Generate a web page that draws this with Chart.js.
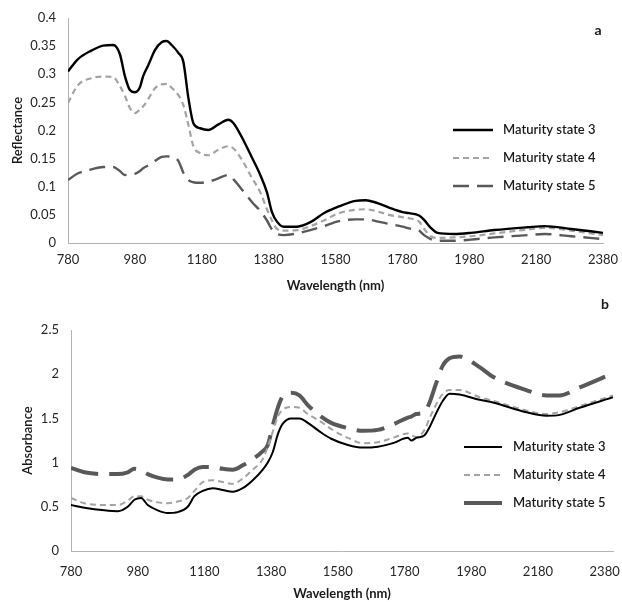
<!DOCTYPE html>
<html>
<head>
<meta charset="utf-8">
<script src="https://cdn.jsdelivr.net/npm/chart.js@4.4.1/dist/chart.umd.min.js"></script>
<style>
  html, body { margin: 0; padding: 0; background: #ffffff; }
  #wrapA { position: absolute; left: 0; top: 0; width: 622px; height: 296px; }
  #wrapB { position: absolute; left: 0; top: 290px; width: 622px; height: 312px; }
</style>
</head>
<body>
<div id="wrapA"><canvas id="chartA" width="622" height="296"></canvas></div>
<div id="wrapB"><canvas id="chartB" width="622" height="312"></canvas></div>
<script>
// ---------- DATA ----------
const seriesNames = ['Maturity state 3', 'Maturity state 4', 'Maturity state 5'];
const xTicks = [780, 980, 1180, 1380, 1580, 1780, 1980, 2180, 2380];
const reflTicks = [0, 0.05, 0.1, 0.15, 0.2, 0.25, 0.3, 0.35, 0.4];
const absTicks = [0, 0.5, 1, 1.5, 2, 2.5];

// (a) Reflectance
const wlA = [780, 810, 850, 885, 915, 935, 950, 965, 980, 995, 1005, 1020, 1040, 1060, 1075, 1090, 1110, 1125, 1140, 1155, 1175, 1200, 1230, 1260, 1275, 1300, 1330, 1355, 1375, 1390, 1405, 1425, 1465, 1505, 1545, 1590, 1640, 1670, 1700, 1740, 1780, 1800, 1830, 1845, 1865, 1885, 1935, 1985, 2055, 2155, 2205, 2285, 2380];
const reflS3 = [0.305, 0.327, 0.342, 0.351, 0.352, 0.336, 0.297, 0.272, 0.268, 0.277, 0.297, 0.316, 0.343, 0.357, 0.359, 0.352, 0.338, 0.322, 0.258, 0.213, 0.204, 0.201, 0.211, 0.219, 0.213, 0.188, 0.152, 0.121, 0.090, 0.055, 0.038, 0.029, 0.029, 0.037, 0.053, 0.065, 0.075, 0.076, 0.072, 0.063, 0.055, 0.053, 0.049, 0.041, 0.027, 0.018, 0.016, 0.018, 0.023, 0.028, 0.030, 0.025, 0.018];
const reflS4 = [0.249, 0.281, 0.293, 0.296, 0.295, 0.279, 0.262, 0.240, 0.231, 0.237, 0.243, 0.256, 0.275, 0.282, 0.283, 0.276, 0.263, 0.245, 0.210, 0.172, 0.160, 0.156, 0.166, 0.172, 0.168, 0.148, 0.116, 0.090, 0.060, 0.040, 0.025, 0.022, 0.023, 0.030, 0.040, 0.053, 0.059, 0.060, 0.057, 0.050, 0.046, 0.044, 0.038, 0.025, 0.012, 0.009, 0.010, 0.012, 0.017, 0.024, 0.027, 0.022, 0.014];
const reflS5 = [0.112, 0.124, 0.131, 0.135, 0.135, 0.128, 0.121, 0.122, 0.123, 0.128, 0.133, 0.138, 0.146, 0.153, 0.154, 0.153, 0.146, 0.125, 0.112, 0.108, 0.107, 0.109, 0.115, 0.121, 0.113, 0.095, 0.073, 0.057, 0.040, 0.024, 0.016, 0.014, 0.017, 0.023, 0.030, 0.039, 0.042, 0.042, 0.039, 0.034, 0.029, 0.026, 0.022, 0.014, 0.007, 0.004, 0.004, 0.006, 0.010, 0.014, 0.016, 0.012, 0.007];

// (b) Absorbance
const wlB = [780, 820, 880, 920, 950, 970, 990, 1010, 1040, 1070, 1100, 1130, 1150, 1175, 1205, 1235, 1265, 1295, 1325, 1355, 1370, 1385, 1400, 1415, 1440, 1465, 1490, 1530, 1560, 1610, 1655, 1700, 1745, 1790, 1800, 1815, 1840, 1855, 1875, 1895, 1915, 1945, 2005, 2045, 2145, 2205, 2245, 2305, 2405];
const absS3 = [0.52, 0.49, 0.46, 0.45, 0.50, 0.58, 0.60, 0.52, 0.46, 0.43, 0.44, 0.50, 0.62, 0.68, 0.71, 0.69, 0.67, 0.71, 0.80, 0.92, 1.00, 1.12, 1.32, 1.44, 1.50, 1.50, 1.45, 1.34, 1.27, 1.20, 1.17, 1.18, 1.22, 1.28, 1.25, 1.28, 1.31, 1.40, 1.56, 1.70, 1.78, 1.77, 1.71, 1.68, 1.57, 1.53, 1.54, 1.62, 1.74];
const absS4 = [0.60, 0.54, 0.52, 0.52, 0.57, 0.62, 0.62, 0.58, 0.55, 0.54, 0.56, 0.60, 0.68, 0.78, 0.80, 0.78, 0.76, 0.82, 0.92, 1.04, 1.18, 1.35, 1.52, 1.60, 1.63, 1.62, 1.55, 1.46, 1.38, 1.28, 1.22, 1.23, 1.28, 1.33, 1.31, 1.29, 1.37, 1.50, 1.66, 1.78, 1.82, 1.82, 1.74, 1.70, 1.59, 1.55, 1.57, 1.64, 1.76];
const absS5 = [0.94, 0.89, 0.87, 0.87, 0.89, 0.93, 0.91, 0.87, 0.83, 0.81, 0.81, 0.86, 0.92, 0.95, 0.95, 0.93, 0.92, 0.97, 1.04, 1.13, 1.20, 1.42, 1.62, 1.75, 1.79, 1.76, 1.65, 1.52, 1.45, 1.39, 1.36, 1.37, 1.43, 1.51, 1.52, 1.55, 1.57, 1.68, 1.90, 2.10, 2.18, 2.20, 2.08, 1.97, 1.82, 1.76, 1.76, 1.85, 2.01];

// ---------- HELPERS ----------
const FONT = 'Lato, "Open Sans", "DejaVu Sans", sans-serif';
const toPts = (xs, ys) => xs.map((x, i) => ({ x: x, y: ys[i] }));
const fmt = v => String(+(+v).toFixed(2));

const overlay = {
  id: 'overlay',
  afterDraw(chart, args, o) {
    const ctx = chart.ctx;
    ctx.save();
    chart.data.datasets.forEach((ds, i) => {
      const y = o.y0 + i * o.dy;
      ctx.beginPath();
      ctx.setLineDash(ds.legendDash || ds.borderDash || []);
      ctx.strokeStyle = ds.borderColor;
      ctx.lineWidth = ds.borderWidth;
      ctx.moveTo(o.x0, y);
      ctx.lineTo(o.x1, y);
      ctx.stroke();
      ctx.setLineDash([]);
      ctx.fillStyle = '#1a1a1a';
      ctx.font = '600 13px ' + FONT;
      ctx.textBaseline = 'middle';
      ctx.textAlign = 'left';
      ctx.fillText(ds.label, o.xt, y);
    });
    ctx.font = 'bold 14px ' + FONT;
    ctx.fillStyle = '#1a1a1a';
    ctx.textAlign = 'center';
    ctx.textBaseline = 'middle';
    ctx.fillText(o.tag, o.tagX, o.tagY);
    ctx.restore();
  }
};

function makeChart(id, cfg) {
  const datasets = cfg.series.map((s, i) => Object.assign({
    label: seriesNames[i],
    data: toPts(cfg.wl, s),
    pointRadius: 0,
    fill: false,
    cubicInterpolationMode: 'monotone'
  }, cfg.styles[i]));
  return new Chart(document.getElementById(id), {
    type: 'line',
    data: { datasets: datasets },
    options: {
      responsive: false,
      animation: false,
      layout: { padding: cfg.padding },
      plugins: {
        legend: { display: false },
        tooltip: { enabled: false },
        overlay: cfg.overlay
      },
      scales: {
        x: {
          type: 'linear',
          min: cfg.xMin, max: cfg.xMax,
          afterBuildTicks: s => { s.ticks = xTicks.map(v => ({ value: v })); },
          afterFit: s => { s.height = cfg.xAxisH; s.paddingLeft = 0; s.paddingRight = 0; },
          grid: { display: false, drawTicks: false },
          border: { display: true, color: '#b3b3b3', width: 1 },
          ticks: { color: '#262626', font: { family: FONT, size: 13 }, padding: cfg.xTickPad, maxRotation: 0, autoSkip: false, callback: v => String(v) },
          title: { display: true, text: 'Wavelength (nm)', color: '#1a1a1a', font: { family: FONT, size: 13, weight: 'bold' }, padding: { top: 0, bottom: cfg.xTitlePad } }
        },
        y: {
          min: cfg.yMin, max: cfg.yMax,
          afterBuildTicks: s => { s.ticks = cfg.yTicks.map(v => ({ value: v })); },
          afterFit: s => { s.width = cfg.yAxisW; s.paddingTop = 0; s.paddingBottom = 0; },
          grid: { display: false, drawTicks: false },
          border: { display: true, color: '#b3b3b3', width: 1 },
          ticks: { color: '#262626', font: { family: FONT, size: 13 }, padding: 12, callback: v => fmt(v) },
          title: { display: true, text: cfg.yTitle, color: '#1a1a1a', font: { family: FONT, size: 13, weight: '600' }, padding: { top: cfg.yTitlePad, bottom: 0 } }
        }
      }
    },
    plugins: [overlay]
  });
}

makeChart('chartA', {
  wl: wlA,
  series: [reflS3, reflS4, reflS5],
  styles: [
    { borderColor: '#000000', borderWidth: 2.4 },
    { borderColor: '#a3a3a3', borderWidth: 2.2, borderDash: [6, 4] },
    { borderColor: '#595959', borderWidth: 2.4, borderDash: [16, 8] }
  ],
  padding: { left: 0, right: 19, top: 18, bottom: 0 },
  xMin: 780, xMax: 2380, yMin: 0, yMax: 0.4, yTicks: reflTicks,
  xAxisH: 53, yAxisW: 68, xTickPad: 9, xTitlePad: 2, yTitlePad: 10,
  yTitle: 'Reflectance',
  overlay: { x0: 453, x1: 493, xt: 503, y0: 130, dy: 28, tag: 'a', tagX: 598, tagY: 30 }
});

makeChart('chartB', {
  wl: wlB,
  series: [absS3, absS4, absS5],
  styles: [
    { borderColor: '#000000', borderWidth: 2 },
    { borderColor: '#a3a3a3', borderWidth: 2, borderDash: [6, 4] },
    { borderColor: '#595959', borderWidth: 4, borderDash: [28, 11], legendDash: [] }
  ],
  padding: { left: 0, right: 9, top: 40, bottom: 0 },
  xMin: 780, xMax: 2405, yMin: 0, yMax: 2.5, yTicks: absTicks,
  xAxisH: 51, yAxisW: 71, xTickPad: 13, xTitlePad: 0, yTitlePad: 20,
  yTitle: 'Absorbance',
  overlay: { x0: 464, x1: 502, xt: 513, y0: 157, dy: 28, tag: 'b', tagX: 605, tagY: 14 }
});
</script>
</body>
</html>
